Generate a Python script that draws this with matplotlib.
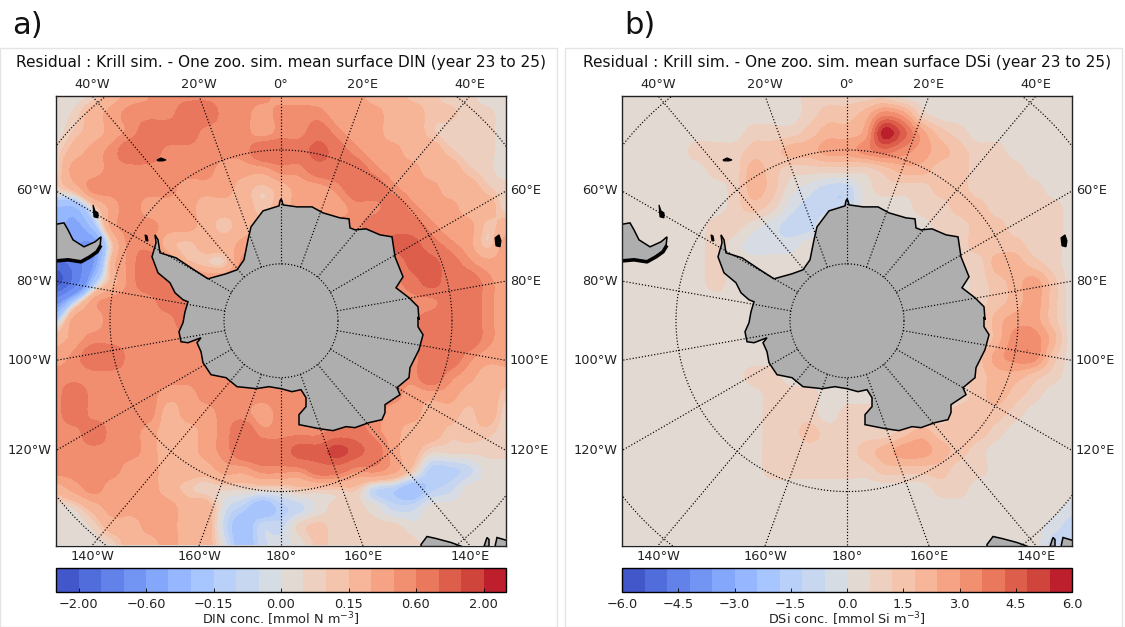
"""
Krill sim. minus one zoo. sim. residuals, south polar maps of DIN and DSi
"""

import numpy as np
import matplotlib
matplotlib.use('Agg')
import matplotlib.pyplot as plt
from matplotlib.colors import BoundaryNorm, ListedColormap
from matplotlib.patches import Polygon, Rectangle

# Map units: 5.7 units per degree of colatitude (azimuthal equidistant)
unit_per_deg = 5.7
half_w = 225.0
parallels = [-80, -60, -40]
meridians = np.arange(-180, 180, 20)

# Residual fields hold 25 x 25 nodes across the map, top row first
cell = 2 * half_w / 24

din_levels = [-2.5, -2.0, -1.53, -1.07, -0.6, -0.45, -0.3, -0.15, -0.1, -0.05, 0.0,
              0.05, 0.1, 0.15, 0.3, 0.45, 0.6, 1.07, 1.53, 2.0, 2.5]
din_ticks = [-2.0, -0.6, -0.15, 0.0, 0.15, 0.6, 2.0]
din_ticklabels = ['\u22122.00', '\u22120.60', '\u22120.15', '0.00', '0.15', '0.60', '2.00']

dsi_levels = [round(-6 + 0.6 * i, 1) for i in range(21)]
dsi_ticks = [-6.0, -4.5, -3.0, -1.5, 0.0, 1.5, 3.0, 4.5, 6.0]
dsi_ticklabels = ['\u22126.0', '\u22124.5', '\u22123.0', '\u22121.5', '0.0', '1.5', '3.0', '4.5', '6.0']

din_values = [
    [.02,.02,.07,.22,.37,.45,.52,.52,.52,.52,.52,.52,.37,.37,.37,.37,.37,.22,.22,.12,.12,.07,.07,.02,.02],
    [.02,.07,.22,.37,.52,.52,.52,.80,.80,.52,.52,.37,.52,.52,.52,.37,.37,.37,.22,.22,.12,.12,.07,.07,.02],
    [.02,.12,.22,.37,.52,.80,.80,.80,.52,.52,.52,.37,.52,.52,.80,.52,.37,.37,.22,.22,.12,.07,.07,.07,.02],
    [.07,.22,.37,.52,.80,.80,.52,.52,.52,.52,.52,.80,.80,.80,1.3,.80,.52,.37,.37,.22,.22,.12,.07,.07,.02],
    [.07,.37,.37,.52,.52,.52,.52,.52,.52,.37,.37,.37,.52,.52,.80,.80,.80,.52,.37,.37,.22,.22,.12,.07,.02],
    [.07,.22,.52,.52,.52,.52,.52,.37,.37,.37,.22,.12,.22,.37,.37,.52,.80,.80,.52,.37,.37,.22,.22,.12,.07],
    [-.30,-.30,.07,.37,.52,.37,.37,.37,.22,.22,.22,.12,.22,.37,.37,.37,.52,.52,.80,.52,.37,.37,.22,.22,.07],
    [-.37,-.52,-.22,.37,.52,.52,.37,.37,.22,.12,.22,.22,.22,.37,.37,.52,.52,.80,.80,.80,.52,.37,.37,.12,.22],
    [-.52,-.60,-.60,.12,.52,.52,.22,.12,.22,.22,.37,.52,.52,.52,.52,.52,.52,.52,1.3,1.3,.80,.52,.37,.12,.37],
    [-1.75,-1.3,-.60,.22,.52,.80,.52,.22,.12,.12,.52,.52,.52,.52,.52,.52,.52,.52,.52,1.3,1.3,.80,.52,.37,.37],
    [-2.2,-1.3,-.22,.22,.52,.80,.80,.80,.52,.52,.52,.52,.52,.52,.52,.52,.52,.52,.52,.80,1.3,.80,.80,.52,.37],
    [-.80,-.12,.37,.52,.52,.52,.80,.80,.52,.52,.52,.52,.52,.52,.52,.52,.52,.52,.52,.52,.52,.80,.80,.52,.37],
    [-.12,.37,.37,.52,.52,.52,.52,.80,.52,.52,.52,.52,.52,.52,.52,.52,.52,.52,.52,.52,.80,.80,.80,.52,.37],
    [.22,.37,.52,.52,.52,.52,.52,.52,.52,.52,.52,.52,.52,.52,.52,.52,.52,.52,.52,.52,.80,.80,.80,.52,.37],
    [.37,.52,.80,.80,.52,.52,.52,.52,.52,.52,.52,.52,.52,.52,.52,.52,.52,.52,.52,.52,.80,.80,.52,.37,.37],
    [.52,.52,.52,.52,.52,.52,.52,.52,.52,.52,.52,.52,.52,.52,.52,.52,.52,.52,.52,.52,.80,.52,.37,.22,.22],
    [.52,.80,.52,.52,.52,.52,.37,.37,.52,.52,.52,.52,.52,.52,.52,.52,.52,.52,.52,.37,.37,.37,.22,.22,.12],
    [.52,.80,.52,.52,.52,.52,.22,.37,.37,.52,.52,.37,.52,.52,.52,.52,.52,.52,.37,.37,.22,.22,.12,.22,.07],
    [.52,.52,.80,.52,.52,.37,.22,.22,.37,.52,.80,.52,.52,.52,.52,.80,.80,.52,.37,.22,.22,.12,.12,.12,.07],
    [.52,.52,.52,.52,.52,.37,.22,.22,.37,.52,.80,.80,.80,1.3,1.3,1.75,1.3,.80,.37,.22,.07,.07,.07,.07,.07],
    [.52,.52,.52,.52,.37,.37,.22,.22,.22,.37,.37,.52,.52,.52,.80,.80,.52,.52,.37,.12,-.12,-.12,-.07,.02,.02],
    [.22,.37,.52,.37,.37,.37,.22,.12,.07,.07,.07,.07,.07,.12,.12,.12,.12,-.07,-.12,-.22,-.12,-.07,.02,.02,.02],
    [.02,.07,.22,.37,.37,.37,.37,.22,.22,-.02,-.12,-.22,-.12,-.07,.02,.07,.07,.02,-.07,-.07,.02,.02,.02,.02,.02],
    [.02,.02,.07,.22,.22,.37,.37,.22,.22,-.07,-.22,-.07,-.07,.07,.12,.07,.07,.07,.07,.02,.02,.02,.02,.02,.02],
    [.02,.02,.02,.07,.22,.22,.37,.22,.22,-.02,-.22,-.07,-.02,.02,.12,.07,.07,.07,.07,.07,.02,.02,.02,.02,.02],
]

dsi_values = [
    [.3,.3,.3,.3,.3,.3,.3,.3,.3,.3,.9,.9,.9,.9,.9,.3,.3,.3,.3,.3,.3,.3,.3,.3,.3],
    [.3,.3,.3,.3,.3,.3,.3,.3,.3,.3,.9,1.5,1.5,2.1,3.3,2.7,.9,.3,.3,.3,.3,.3,.3,.3,.3],
    [.3,.3,.3,.3,.3,.3,.3,.9,.9,.9,1.5,2.1,2.1,2.7,5.7,4.5,2.7,1.5,.9,.3,.3,.3,.3,.3,.3],
    [.3,.3,.3,.3,.9,.9,.9,1.5,1.5,2.1,2.1,2.7,2.7,3.3,3.9,3.3,2.7,2.1,1.5,.9,.9,.3,.3,.3,.3],
    [.3,.3,.3,.3,.3,.9,.9,2.1,1.5,.9,.9,.9,.9,.9,1.5,2.1,2.1,1.5,1.5,.9,.9,.9,.3,.3,.3],
    [.3,.3,.3,.3,.3,.3,.9,2.1,1.5,.3,-.3,-.9,-.9,.3,.9,.9,.9,1.5,1.5,.9,.9,.9,.9,.3,.3],
    [.3,.3,.3,.3,.3,.3,.9,1.5,.9,-.3,-.9,-.9,-.9,.3,.3,.3,.9,.9,1.5,1.5,.9,.9,.9,.9,.3],
    [.3,.3,.3,.3,.3,.9,.9,.3,-.3,-.9,-.9,.3,.3,.3,.3,.3,.3,.9,.9,1.5,1.5,.9,.9,.9,.3],
    [.3,.3,.3,.3,.3,.9,.3,-.3,-.3,-.3,.3,.3,.3,.3,.3,.3,.3,.3,.9,1.5,1.5,1.5,.9,.9,.3],
    [.3,.3,.3,.3,.3,.9,.3,.3,.3,.3,.3,.3,.3,.3,.3,.3,.3,.3,.9,.9,2.1,2.1,1.5,.9,.3],
    [.3,.3,.3,.3,.3,.9,.3,.3,.3,.3,.3,.3,.3,.3,.3,.3,.3,.3,.3,.9,1.5,2.1,2.7,1.5,.3],
    [.3,.3,.3,.3,.3,.3,.3,.3,.3,.3,.3,.3,.3,.3,.3,.3,.3,.3,.3,.9,1.5,2.1,2.7,1.5,.3],
    [.3,.3,.3,.3,.3,.3,.3,.3,.3,.3,.3,.3,.3,.3,.3,.3,.3,.3,.3,.9,2.1,2.7,2.7,1.5,.3],
    [.3,.3,.3,.3,.3,.3,.3,.3,.3,.3,.3,.3,.3,.3,.3,.3,.3,.3,.3,.9,2.1,3.3,3.3,2.1,.3],
    [.3,.3,.3,.3,.3,.3,.3,.3,.3,.3,.3,.3,.3,.3,.3,.3,.3,.3,.3,1.5,2.7,3.3,3.3,1.5,.3],
    [.3,.3,.3,.3,.3,.3,.3,.9,.9,.3,.3,.3,.3,.3,.3,.3,.3,.3,.9,1.5,2.1,2.1,1.5,.9,.3],
    [.3,.3,.3,.3,.3,.3,.3,.3,.9,.9,.9,.3,.3,.3,.3,.3,.3,.9,.9,1.5,2.1,1.5,.9,.3,.3],
    [.3,.3,.3,.3,.3,.3,.3,.3,.9,.9,.9,.3,.9,.9,.9,.9,.9,.9,1.5,1.5,1.5,.9,.3,.3,.3],
    [.3,.3,.3,.3,.3,.3,.3,.3,.9,.9,1.5,.9,.9,.9,.9,1.5,2.1,1.5,1.5,1.5,.9,.3,.3,.3,.3],
    [.3,.3,.3,.3,.3,.3,.3,.3,.9,.9,.9,.9,.9,1.5,2.1,2.7,2.7,2.1,1.5,.9,.3,.3,.3,.3,.3],
    [.3,.3,.3,.3,.3,.3,.3,.3,.9,.9,.9,.9,.9,.9,1.5,1.5,1.5,1.5,.9,.9,.3,.3,.3,.3,.3],
    [.3,.3,.3,.3,.3,.3,.3,.3,.3,.3,.3,.3,.3,.3,.3,.3,.3,.9,.9,.3,.3,.3,.3,.3,.3],
    [.3,.3,.3,.3,.3,.3,.3,.3,.3,.3,.3,.3,.3,.3,.3,.3,.3,.3,.3,.3,.3,.3,.3,.3,-.3],
    [.3,.3,.3,.3,.3,.3,.3,.3,.3,.3,.3,.3,.3,.3,.3,.3,.3,.3,.3,.3,.3,.3,.3,-.3,-.9],
    [.3,.3,.3,.3,.3,.3,.3,.3,.3,.3,.3,.3,.3,.3,.3,.3,.3,.3,.3,.3,.3,.3,.3,-.9,-.9],
]

# Coastlines in map units (east, north from the pole)
antarctica_x = [0, 1, 2, 16, 31, 42, 59, 68, 69, 74, 85, 99, 111, 114, 122, 115, 128, 137, 138, 137, 137, 142,
                138, 129, 128, 116, 119, 104, 104, 101, 88, 74, 65, 52, 38, 18, 18, 25, 25, 20, 11, 0,
                -12, -25, -34, -44, -55, -70, -78, -80, -84, -80, -93, -100, -102, -98, -96, -93, -98,
                -106, -111, -123, -129, -125, -126, -123, -121, -105, -87, -73, -55, -44, -37, -33, -30, -18, -2, -1]
antarctica_y = [122, 120, 116, 114, 114, 108, 103, 102, 93, 91, 92, 86, 84, 64, 44, 33, 23, 14, 1, 4, -6, -14,
                -29, -47, -57, -67, -74, -84, -92, -99, -102, -107, -106, -110, -108, -104, -94, -86, -77, -69, -71, -68,
                -66, -68, -67, -66, -57, -54, -42, -31, -22, -17, -22, -21, -11, -2, 9, 19, 21,
                28, 38, 48, 64, 78, 86, 81, 68, 63, 51, 42, 47, 51, 61, 81, 94, 110, 115, 120]
south_america_x = [-240, -217, -213, -208, -197, -186, -180, -181, -184, -191, -200, -213, -240]
south_america_y = [94, 98, 91, 81, 74, 79, 84, 74, 69, 64, 59, 61, 59]
south_america_tip_x = [-224, -213, -200, -191, -184, -181]
south_america_tip_y = [60, 61, 59, 64, 69, 74]
islands = [
    ([-124, -120, -115, -118, -123], [161, 163, 161, 160, 160]),
    ([-188, -186, -183, -183, -187], [116, 110, 108, 103, 104]),
    ([214, 218, 220, 219, 215], [83, 86, 80, 74, 75]),
    ([-136, -134, -133, -135], [86, 85, 80, 80]),
]
south_land = [
    ([140, 146, 155, 170, 181, 181, 140], [-224, -216, -218, -222, -226, -230, -230]),
    ([203, 206, 208, 208, 203], [-226, -217, -219, -226, -226]),
    ([214, 216, 226, 240, 214], [-226, -217, -220, -230, -230]),
]

fig_w, fig_h = 1125, 627
cmap_bins = ListedColormap(plt.get_cmap('coolwarm')((np.arange(20) + 0.5) / 20))
top_lons = [-40, -20, 0, 20, 40]
top_labels = ['40°W', '20°W', '0°', '20°E', '40°E']
bottom_lons = [-140, -160, 180, 160, 140]
bottom_labels = ['140°W', '160°W', '180°', '160°E', '140°E']
left_lons = [-60, -80, -100, -120]
left_labels = ['60°W', '80°W', '100°W', '120°W']
right_lons = [60, 80, 100, 120]
right_labels = ['60°E', '80°E', '100°E', '120°E']


def draw_panel(left_px, values, levels, ticks, ticklabels, title, cbar_label, letter, letter_px):
    ax = fig.add_axes([left_px / fig_w, 1 - 545.5 / fig_h, 450 / fig_w, 449.5 / fig_h])
    norm = BoundaryNorm(levels, 20)
    # Banded field: matplotlib resamples the grid and bins it through the norm
    cs = ax.imshow(np.array(values), extent=[-half_w - cell / 2, half_w + cell / 2,
                                             -half_w - cell / 2, half_w + cell / 2],
                   cmap=cmap_bins, norm=norm, interpolation='catrom',
                   interpolation_stage='data', aspect='auto')

    # Land
    land = [(antarctica_x, antarctica_y), (south_america_x, south_america_y)] + south_land
    for lx, ly in land:
        ax.add_patch(Polygon(np.column_stack([lx, ly]), closed=True, facecolor='#aeaeae',
                             edgecolor='black', linewidth=1.1, zorder=3))
    ax.plot(south_america_tip_x, south_america_tip_y, color='black', lw=2.6, zorder=3)
    for lx, ly in islands:
        ax.add_patch(Polygon(np.column_stack([lx, ly]), closed=True, facecolor='black',
                             edgecolor='black', linewidth=0.8, zorder=3))

    # Graticule
    theta = np.linspace(0, 2 * np.pi, 361)
    for lat in parallels:
        r = (90 + lat) * unit_per_deg
        ax.plot(r * np.cos(theta), r * np.sin(theta), color='black', ls=':', lw=0.85, zorder=4)
    r0 = 10 * unit_per_deg
    r1 = 60 * unit_per_deg
    for lon in meridians:
        s, c = np.sin(np.radians(lon)), np.cos(np.radians(lon))
        ax.plot([r0 * s, r1 * s], [r0 * c, r1 * c], color='black', ls=':', lw=0.85, zorder=4)

    ax.set_xlim(-half_w, half_w)
    ax.set_ylim(-half_w, half_w)
    ax.set_xticks([])
    ax.set_yticks([])
    for sp in ax.spines.values():
        sp.set_linewidth(1.0)
        sp.set_color('#222222')
        sp.set_zorder(6)

    # Longitude labels sit where each meridian leaves the map
    for lon, lab in zip(top_lons, top_labels):
        ax.text(half_w * np.tan(np.radians(lon)), half_w + 12, lab, ha='center', va='center',
                fontsize=9.3, color='#222222', clip_on=False)
    for lon, lab in zip(bottom_lons, bottom_labels):
        ax.text(half_w * np.tan(np.radians(180 - lon)), -half_w - 11, lab, ha='center', va='center',
                fontsize=9.3, color='#222222', clip_on=False)
    for lon, lab in zip(left_lons, left_labels):
        ax.text(-half_w - 4, half_w * np.tan(np.radians(90 + lon)), lab, ha='right', va='center',
                fontsize=9.3, color='#222222', clip_on=False)
    for lon, lab in zip(right_lons, right_labels):
        ax.text(half_w + 4, half_w * np.tan(np.radians(90 - lon)), lab, ha='left', va='center',
                fontsize=9.3, color='#222222', clip_on=False)

    # Colourbar
    cax = fig.add_axes([left_px / fig_w, 1 - 592 / fig_h, 450 / fig_w, 24 / fig_h])
    cb = fig.colorbar(cs, cax=cax, orientation='horizontal', ticks=ticks, spacing='uniform')
    cb.set_ticklabels(ticklabels)
    cb.ax.tick_params(length=3, width=0.6, direction='in', labelsize=9.3, pad=4, labelcolor='#222222')
    cb.ax.minorticks_off()
    cb.outline.set_linewidth(1.0)
    fig.text((left_px + 225) / fig_w, 1 - 619 / fig_h, cbar_label, ha='center', va='center',
             fontsize=9.3, color='#222222')

    fig.text((left_px + 225) / fig_w, 1 - 62 / fig_h, title, ha='center', va='center',
             fontsize=11.1, color='#111111')
    fig.text(letter_px / fig_w, 1 - 25 / fig_h, letter, ha='left', va='center', fontsize=22, color='#111111')


fig = plt.figure(figsize=(fig_w / 100, fig_h / 100), dpi=100)

# Panel frames
fig.add_artist(Rectangle((0, 0), 557 / fig_w, 1 - 48 / fig_h, transform=fig.transFigure,
                         facecolor='none', edgecolor='#e4e4e4', lw=1))
fig.add_artist(Rectangle((565 / fig_w, 0), 557 / fig_w, 1 - 48 / fig_h, transform=fig.transFigure,
                         facecolor='none', edgecolor='#e4e4e4', lw=1))

draw_panel(56, din_values, din_levels, din_ticks, din_ticklabels,
           'Residual : Krill sim. - One zoo. sim. mean surface DIN (year 23 to 25)',
           'DIN conc. [mmol N m$^{-3}$]', 'a)', 12)
draw_panel(622, dsi_values, dsi_levels, dsi_ticks, dsi_ticklabels,
           'Residual : Krill sim. - One zoo. sim. mean surface DSi (year 23 to 25)',
           'DSi conc. [mmol Si m$^{-3}$]', 'b)', 624)

plt.savefig('out.png', dpi=100)
